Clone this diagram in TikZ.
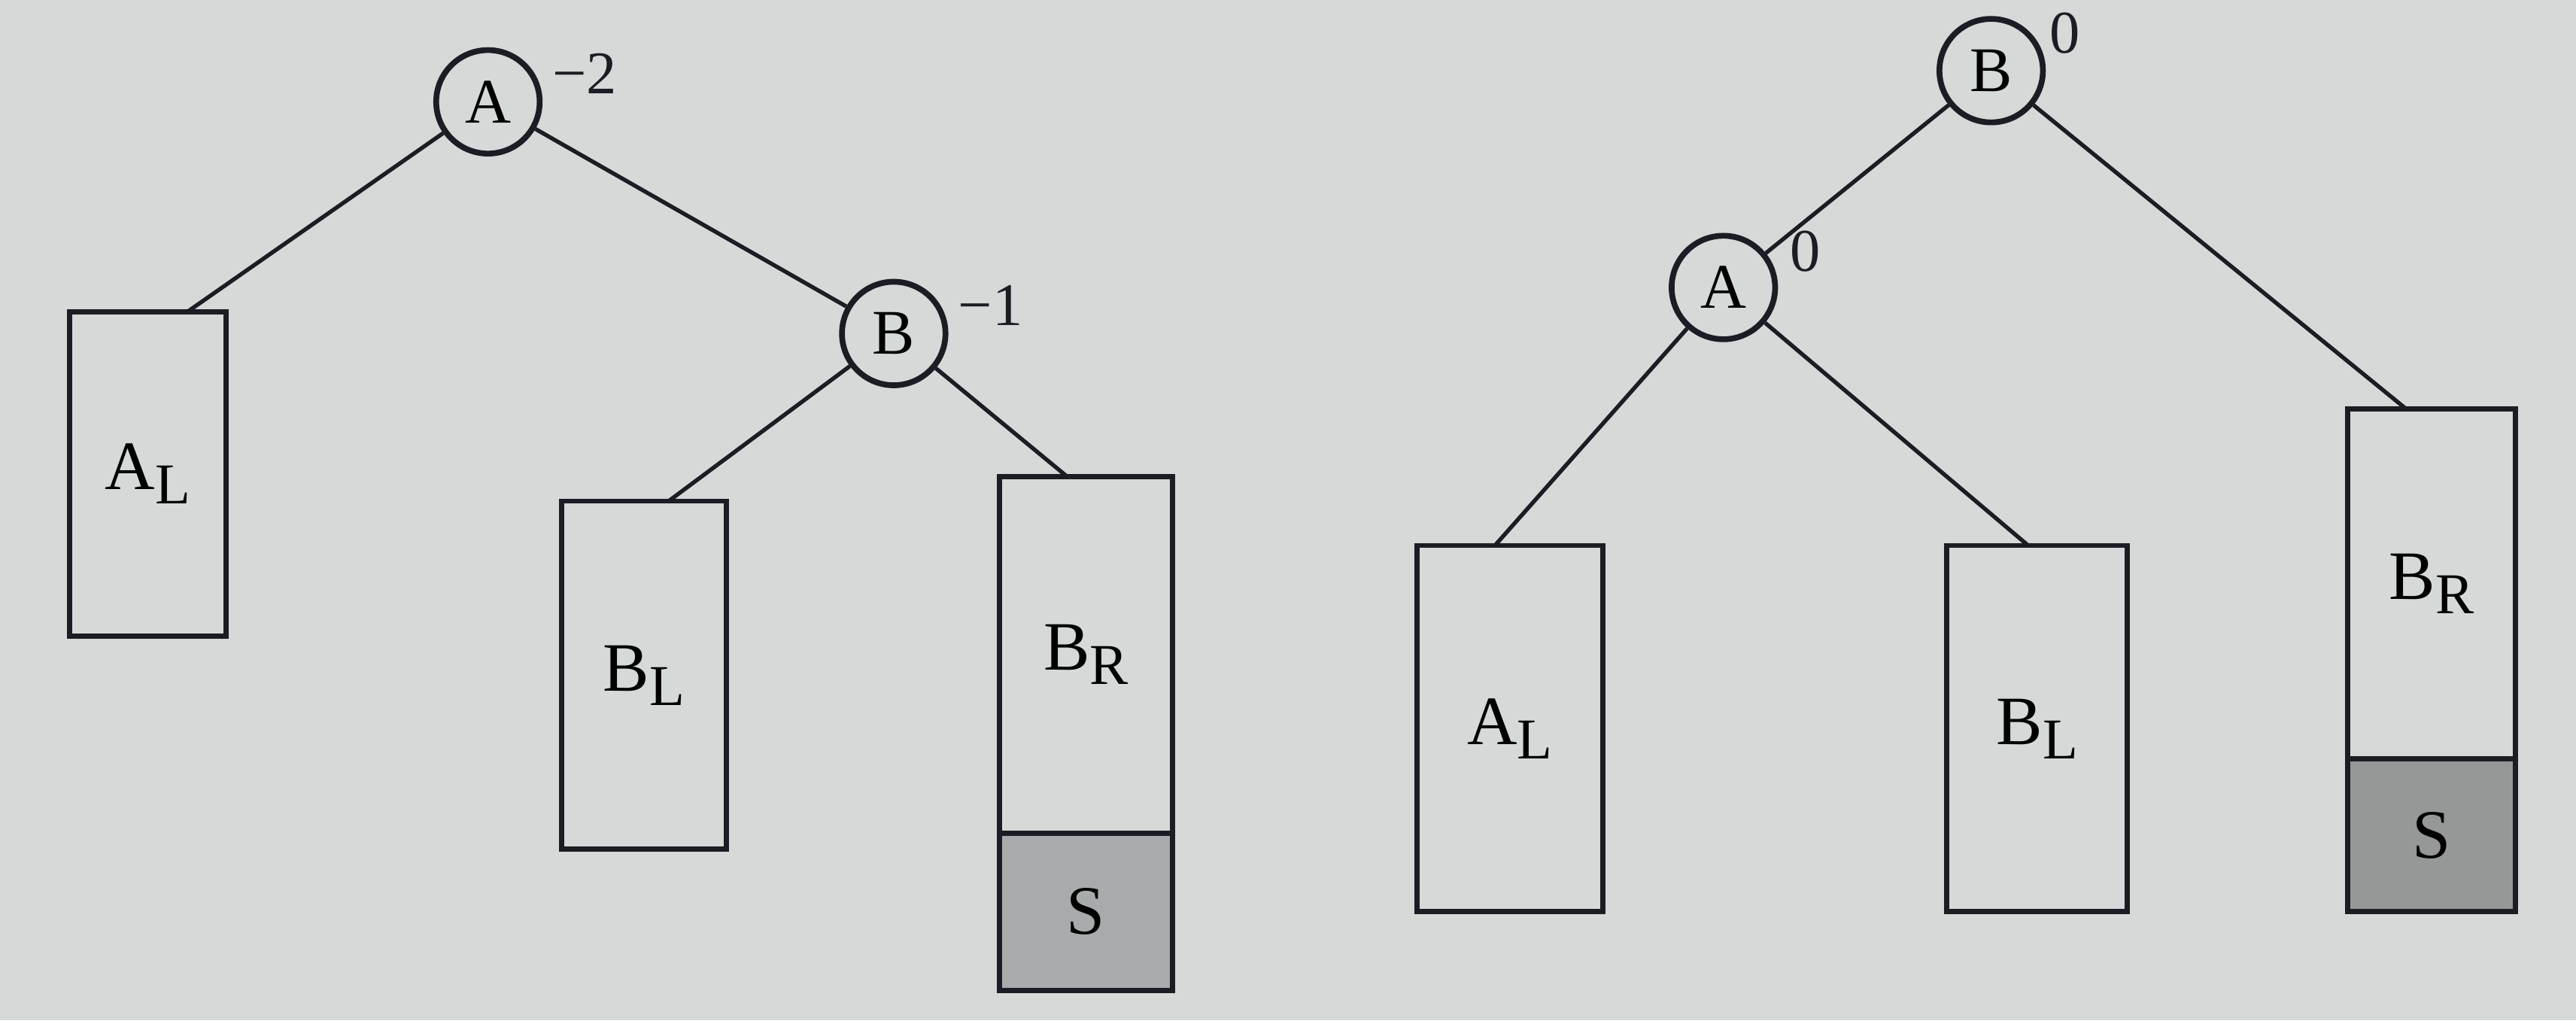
\documentclass[tikz,border=0pt]{standalone}
\usepackage{fontspec}
\setmainfont{Liberation Serif}
\usetikzlibrary{positioning,calc}

\definecolor{paper}{RGB}{213,217,216}
\definecolor{ink}{RGB}{28,28,36}
\definecolor{shadeL}{RGB}{168,171,171}
\definecolor{shadeR}{RGB}{150,152,152}
\newcommand{\subl}[1]{\raisebox{-0.45ex}{\normalsize #1}}

\begin{document}
\begin{tikzpicture}[
    vertex/.style={draw=ink, circle, line width=1pt, minimum size=6.3mm,
                   inner sep=0pt, font=\fontsize{11}{12}\selectfont},
    subtree/.style={draw=ink, rectangle, line width=0.9pt, inner sep=0pt,
                    outer sep=0pt, font=\fontsize{12}{14}\selectfont},
    grown/.style={subtree, fill=shadeL},
    bf/.style={font=\fontsize{10.5}{12}\selectfont, text=ink},
    link/.style={draw=ink, line width=0.7pt},
]

% === Paper ===
\fill[paper] (0,0) rectangle (15.68,6.21);
\useasboundingbox (0,0) rectangle (15.68,6.21);

% === Left tree: after inserting S ===
\node[vertex] (la) at (2.97,5.59) {A};
\node[bf] (la-bf) at (3.56,5.76) {−2};
\node[vertex] (lb) at (5.44,4.18) {B};
\node[bf] (lb-bf) at (6.03,4.35) {−1};

\node[subtree, minimum width=9.5mm, minimum height=19.7mm] (lal) at (0.90,3.325) {A\subl{L}};
\node[subtree, minimum width=10mm, minimum height=21.2mm] (lbl) at (3.92,2.10) {B\subl{L}};
\node[subtree, minimum width=10.5mm, minimum height=21.7mm, anchor=north] (lbr) at (6.61,3.31) {B\subl{R}};
\node[grown, minimum width=10.5mm, minimum height=9.6mm, below=0pt of lbr] (ls) {S};

\draw[link] (la) -- ($(lal.north west)!0.75!(lal.north east)$);
\draw[link] (la) -- (lb);
\draw[link] (lb) -- ($(lbl.north west)!0.65!(lbl.north east)$);
\draw[link] (lb) -- ($(lbr.north west)!0.39!(lbr.north east)$);

% === Right tree: after rotation ===
\node[vertex] (rb) at (12.12,5.78) {B};
\node[bf] (rb-bf) at (12.57,6.01) {0};
\node[vertex] (ra) at (10.49,4.46) {A};
\node[bf] (ra-bf) at (10.99,4.68) {0};

\node[subtree, minimum width=11.3mm, minimum height=22.3mm] (ral) at (9.19,1.775) {A\subl{L}};
\node[subtree, minimum width=11mm, minimum height=22.3mm] (rbl) at (12.40,1.775) {B\subl{L}};
\node[subtree, minimum width=10.2mm, minimum height=21.3mm, anchor=north] (rbr) at (14.80,3.72) {B\subl{R}};
\node[grown, fill=shadeR, minimum width=10.2mm, minimum height=9.3mm, below=0pt of rbr] (rs) {S};

\draw[link] (rb) -- (ra);
\draw[link] (rb) -- ($(rbr.north west)!0.35!(rbr.north east)$);
\draw[link] (ra) -- ($(ral.north west)!0.42!(ral.north east)$);
\draw[link] (ra) -- ($(rbl.north west)!0.45!(rbl.north east)$);

\end{tikzpicture}
\end{document}
